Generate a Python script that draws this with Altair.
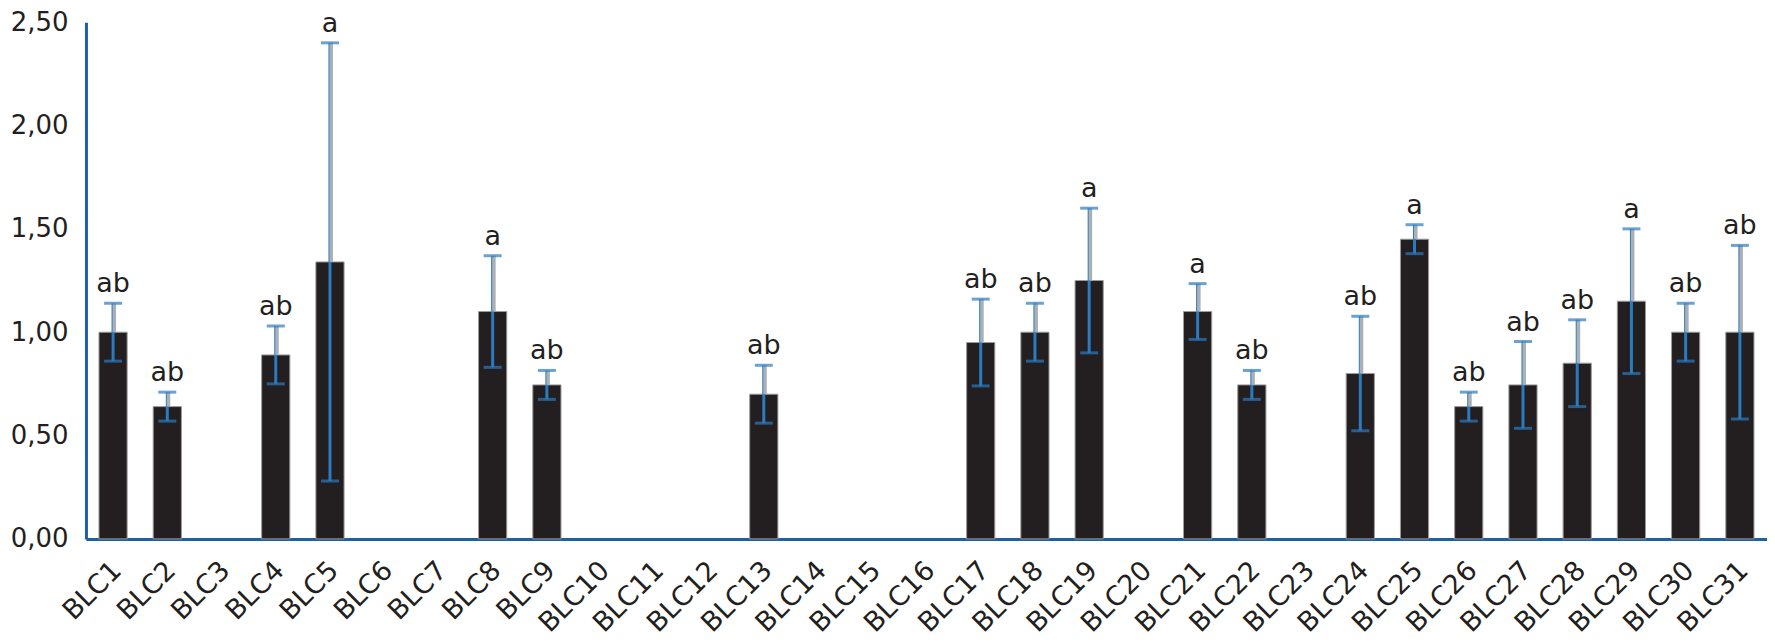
import altair as alt
import pandas as pd
import math

NA = float("nan")
categories = [f"BLC{i}" for i in range(1, 32)]
means = [1.00, 0.64, NA, 0.89, 1.34, NA, NA, 1.10, 0.745, NA, NA, NA, 0.70, NA, NA, NA,
         0.95, 1.00, 1.25, NA, 1.10, 0.745, NA, 0.80, 1.45, 0.64, 0.745, 0.85, 1.15, 1.00, 1.00]
errors = [0.14, 0.07, NA, 0.14, 1.06, NA, NA, 0.27, 0.07, NA, NA, NA, 0.14, NA, NA, NA,
          0.21, 0.14, 0.35, NA, 0.135, 0.07, NA, 0.277, 0.07, 0.07, 0.21, 0.21, 0.35, 0.14, 0.42]
letters = ["ab", "ab", "", "ab", "a", "", "", "a", "ab", "", "", "", "ab", "", "", "",
           "ab", "ab", "a", "", "a", "ab", "", "ab", "a", "ab", "ab", "ab", "a", "ab", "ab"]
y_ticks = [0, 0.5, 1.0, 1.5, 2.0, 2.5]

rows = []
for c, m, e, l in zip(categories, means, errors, letters):
    if not math.isnan(m):
        rows.append({"cat": c, "mean": m, "lo": m - e, "hi": m + e, "letter": l})
df = pd.DataFrame(rows)

FONT = "DejaVu Sans"
INK = "#231f20"
AXIS_BLUE = "#1f5fa6"
ERR_BLUE = "#2b7bc0"
GRAY = "#aab0b6"

x = alt.X("cat:N", sort=categories,
          scale=alt.Scale(domain=categories, paddingInner=0.48, paddingOuter=0.24),
          axis=alt.Axis(title=None, labelAngle=-45, labelFontSize=27, labelFont=FONT,
                        labelColor=INK, ticks=False, domainColor=AXIS_BLUE, domainWidth=3,
                        labelPadding=18, labelOffset=-5, labelOverlap=False, labelBound=False,
                        grid=False))
yscale = alt.Scale(domain=[0, 2.5], nice=False, zero=True)
yaxis = alt.Axis(title=None, values=y_ticks, labelFontSize=26, labelFont=FONT,
                 labelColor=INK, ticks=False, domainColor=AXIS_BLUE, domainWidth=3,
                 labelPadding=18, grid=False,
                 labelExpr="replace(format(datum.value, '.2f'), '.', ',')")


def Y(f):
    return alt.Y(f, scale=yscale, axis=yaxis)


base = alt.Chart(df)

bars = base.mark_bar(color=INK, stroke="#9c9c9c", strokeWidth=1).encode(x=x, y=Y("mean:Q"))

upper_gray = base.mark_rule(color=GRAY, strokeWidth=4, xOffset=1).encode(
    x=x, y=Y("mean:Q"), y2="hi:Q")
upper_blue = base.mark_rule(color=ERR_BLUE, strokeWidth=1, xOffset=-1).encode(
    x=x, y=Y("mean:Q"), y2="hi:Q")
lower_blue = base.mark_rule(color=ERR_BLUE, strokeWidth=3).encode(
    x=x, y=Y("lo:Q"), y2="mean:Q")
cap_hi = base.mark_tick(color=ERR_BLUE, thickness=3, size=18).encode(x=x, y=Y("hi:Q"))
cap_lo = base.mark_tick(color=ERR_BLUE, thickness=3, size=18).encode(x=x, y=Y("lo:Q"))
labels = base.mark_text(font=FONT, fontSize=27, color=INK, baseline="bottom", dy=-5).encode(
    x=x, y=Y("hi:Q"), text="letter:N")

chart = alt.layer(bars, upper_gray, upper_blue, lower_blue, cap_hi, cap_lo, labels).properties(
    width=1682, height=517,
    background="white",
    autosize=alt.AutoSizeParams(type="none"),
    padding={"left": 78, "top": 14, "right": 0, "bottom": 103},
).configure_view(strokeWidth=0)

chart.save("out.html", embed_options={"renderer": "svg", "actions": False})
